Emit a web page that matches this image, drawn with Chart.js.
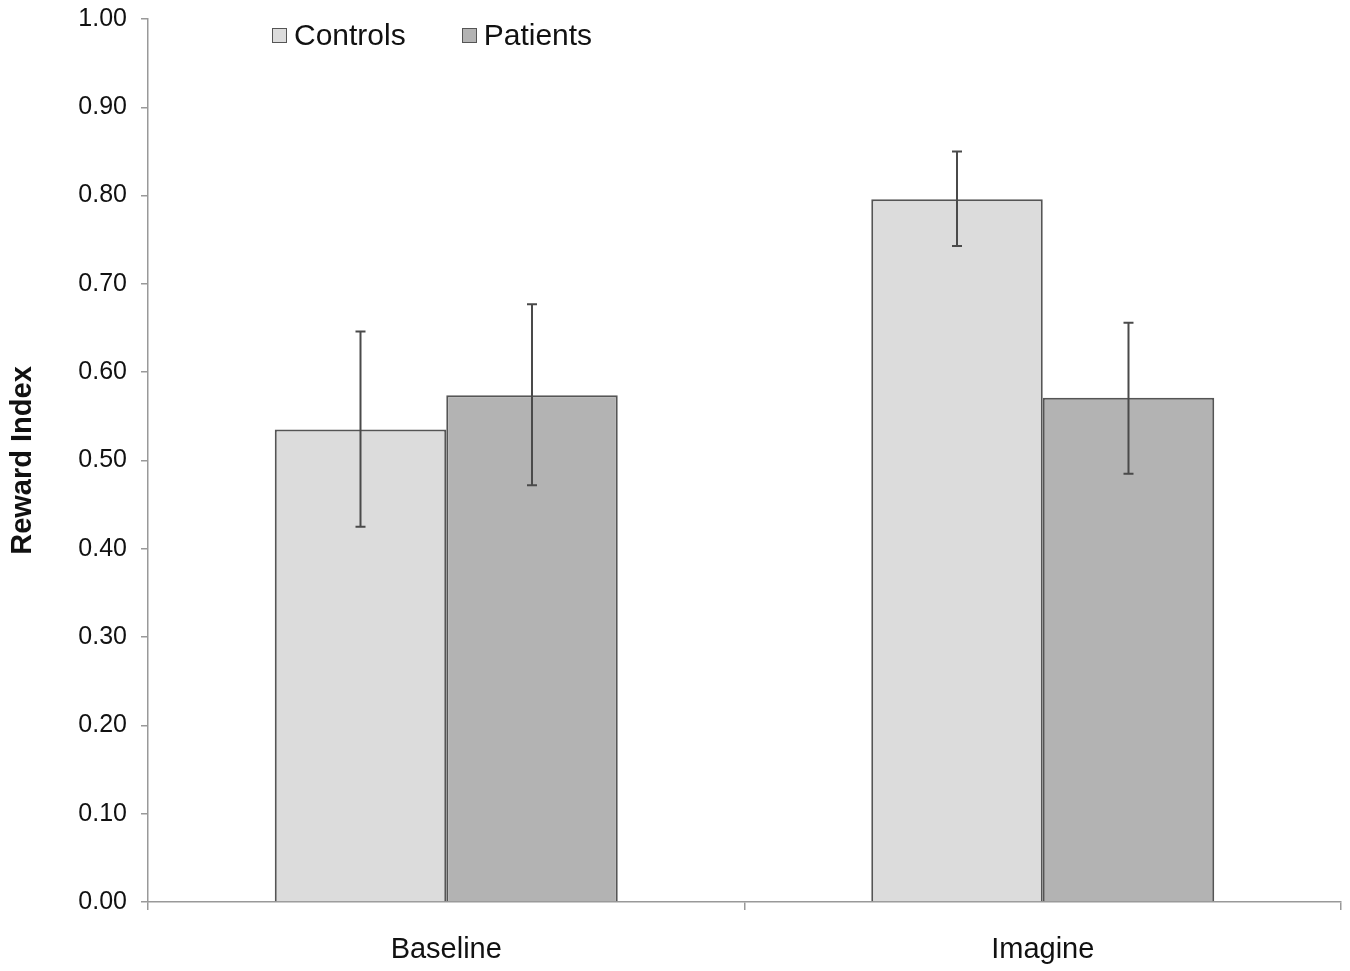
<!DOCTYPE html>
<html>
<head>
<meta charset="utf-8">
<script src="https://cdn.jsdelivr.net/npm/chart.js@4"></script>
<style>
  body { margin: 0; background: #fff; }
  #wrap { position: relative; width: 1350px; height: 971px; }
  #legend { position: absolute; left: 272px; top: 18px; display: flex; font-family: "Liberation Sans", Arial, sans-serif; font-size: 30px; color: #111; }
  .item { display: flex; align-items: center; margin-right: 56px; }
  .box { width: 13px; height: 13px; border: 1.5px solid #555; margin-right: 7px; }
</style>
</head>
<body>
<div id="wrap">
  <canvas id="chart" width="1350" height="971"></canvas>
  <div id="legend"></div>
</div>
<script>
const categories = ['Baseline', 'Imagine'];
const seriesNames = ['Controls', 'Patients'];
const controls = [0.535, 0.796];
const patients = [0.574, 0.571];
const controlsErrLow = [0.425, 0.743];
const controlsErrHigh = [0.646, 0.850];
const patientsErrLow = [0.472, 0.485];
const patientsErrHigh = [0.677, 0.656];
const colors = ['#dcdcdc', '#b3b3b3'];

const font = '"Liberation Sans", Arial, sans-serif';

// error bars drawn on top of each bar
const errorBars = {
    id: 'errorBars',
    afterDatasetsDraw(chart) {
        const ctx = chart.ctx;
        const y = chart.scales.y;
        ctx.save();
        ctx.strokeStyle = '#4a4a4a';
        ctx.lineWidth = 2;
        chart.data.datasets.forEach((ds, i) => {
            chart.getDatasetMeta(i).data.forEach((bar, j) => {
                const top = y.getPixelForValue(ds.errHigh[j]);
                const bot = y.getPixelForValue(ds.errLow[j]);
                ctx.beginPath();
                ctx.moveTo(bar.x, top); ctx.lineTo(bar.x, bot);
                ctx.moveTo(bar.x - 5, top); ctx.lineTo(bar.x + 5, top);
                ctx.moveTo(bar.x - 5, bot); ctx.lineTo(bar.x + 5, bot);
                ctx.stroke();
            });
        });
        ctx.restore();
    }
};

const chart = new Chart(document.getElementById('chart'), {
    type: 'bar',
    data: {
        labels: categories,
        datasets: [
            { label: seriesNames[0], data: controls, errLow: controlsErrLow, errHigh: controlsErrHigh,
              backgroundColor: colors[0], borderColor: '#555', borderWidth: 2, borderSkipped: 'bottom' },
            { label: seriesNames[1], data: patients, errLow: patientsErrLow, errHigh: patientsErrHigh,
              backgroundColor: colors[1], borderColor: '#555', borderWidth: 2, borderSkipped: 'bottom' }
        ]
    },
    options: {
        responsive: false,
        animation: false,
        layout: { padding: { top: 19, right: 9, left: 0, bottom: 0 } },
        datasets: { bar: { categoryPercentage: 0.575, barPercentage: 1.0 } },
        plugins: {
            legend: { display: false },
            tooltip: { enabled: false }
        },
        scales: {
            x: {
                grid: { offset: true, drawOnChartArea: false, tickLength: 8, color: '#999', lineWidth: 1.5 },
                border: { color: '#999', width: 1.5 },
                ticks: { color: '#111', font: { family: font, size: 29 }, padding: 23 },
                afterFit(scale) { scale.height = 69; }
            },
            y: {
                min: 0,
                max: 1,
                ticks: { stepSize: 0.1, color: '#111', font: { family: font, size: 25 }, padding: 14,
                         callback: v => v.toFixed(2) },
                grid: { drawOnChartArea: false, tickLength: 7, color: '#999', lineWidth: 1.5 },
                border: { color: '#999', width: 1.5 },
                title: { display: true, text: 'Reward Index', color: '#111',
                         font: { family: font, size: 29, weight: 'bold' }, padding: { top: 6, bottom: 0 } },
                afterFit(scale) { scale.width = 148; scale.paddingTop = 0; scale.paddingBottom = 0; }
            }
        }
    },
    plugins: [errorBars]
});

// html legend built from the datasets
const legend = document.getElementById('legend');
chart.data.datasets.forEach(ds => {
    const item = document.createElement('div');
    item.className = 'item';
    const box = document.createElement('span');
    box.className = 'box';
    box.style.background = ds.backgroundColor;
    const txt = document.createElement('span');
    txt.textContent = ds.label;
    item.appendChild(box);
    item.appendChild(txt);
    legend.appendChild(item);
});
</script>
</body>
</html>
